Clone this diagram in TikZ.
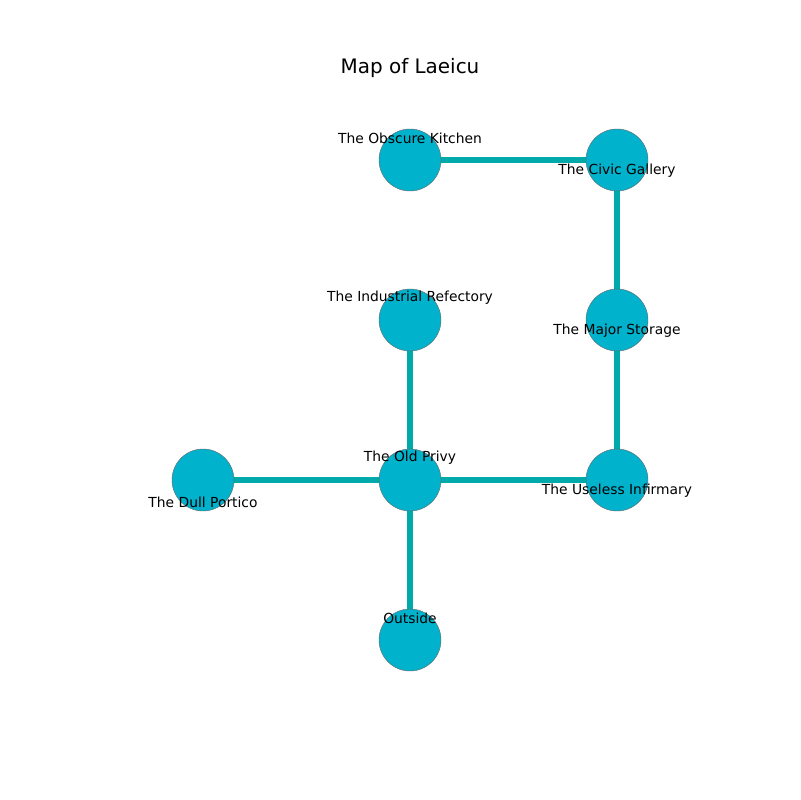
\documentclass[tikz,border=0pt]{standalone}
\usepackage{fontspec}
\setmainfont{DejaVu Sans}
\usetikzlibrary{positioning, backgrounds}
\definecolor{roomfill}{HTML}{00B2CC}
\definecolor{passage}{HTML}{00AAAA}
\newlength{\unitpx}
\setlength{\unitpx}{0.01in}
\tikzset{
    room/.style={draw=gray!80!black,line width=0.3pt,fill=roomfill,circle,minimum size=62\unitpx,inner sep=0pt},
    tag/.style={font=\fontsize{10}{12}\selectfont,inner sep=0pt},
    hall/.style={draw=passage,line width=3.9pt}
}
\begin{document}
\begin{tikzpicture}[x=0.01in,y=-0.01in]
    \useasboundingbox (0,0) rectangle (800,800);
    \node [font=\fontsize{14.4}{17}\selectfont](title)at(410,68){Map of Laeicu};

    \node [room](kitchen)at(410,160){};
    \node [room](gallery)at(617,160){};
    \node [room](refectory)at(410,320){};
    \node [room](storage)at(617,320){};
    \node [room](privy)at(410,480){};
    \node [room](infirmary)at(617,480){};
    \node [room](portico)at(203,480){};
    \node [room](outside)at(410,640){};

    \begin{pgfonlayer}{background}
        \draw [hall](kitchen.center)--(gallery.center);
        \draw [hall](gallery.center)--(storage.center);
        \draw [hall](storage.center)--(infirmary.center);
        \draw [hall](infirmary.center)--(privy.center);
        \draw [hall](privy.center)--(refectory.center);
        \draw [hall](privy.center)--(portico.center);
        \draw [hall](privy.center)--(outside.center);
    \end{pgfonlayer}

    \node [tag](kitchenlbl)at(410,138){The Obscure Kitchen};
    \node [tag](gallerylbl)at(617,171){The Civic Gallery};
    \node [tag](refectorylbl)at(410,298){The Industrial Refectory};
    \node [tag](storagelbl)at(617,331){The Major Storage};
    \node [tag](privylbl)at(410,458){The Old Privy};
    \node [tag](infirmarylbl)at(617,491){The Useless Infirmary};
    \node [tag](porticolbl)at(203,502){The Dull Portico};
    \node [tag](outsidelbl)at(410,618){Outside};
\end{tikzpicture}
\end{document}
